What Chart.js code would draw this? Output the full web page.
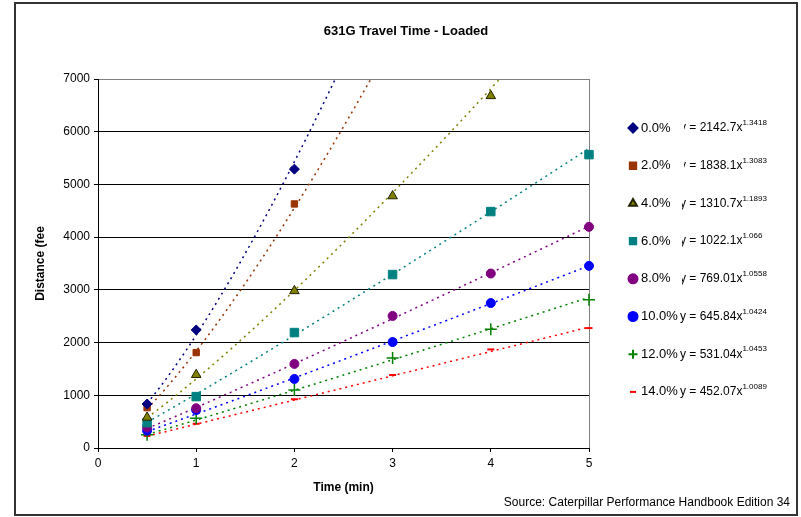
<!DOCTYPE html>
<html>
<head>
<meta charset="utf-8">
<title>631G Travel Time - Loaded</title>
<script src="https://cdn.jsdelivr.net/npm/chart.js@4.4.1/dist/chart.umd.min.js"></script>
<style>
  html, body { margin: 0; padding: 0; background: #fff; }
  canvas { display: block; }
</style>
</head>
<body>
<canvas id="chart" width="801" height="517"></canvas>
<script>
// data
const grades = ['0.0%', '2.0%', '4.0%', '6.0%', '8.0%', '10.0%', '12.0%', '14.0%'];
const times = [0.5, 1, 2, 3, 4, 5];
const dist0 = [835, 2240, 5290];
const dist2 = [765, 1810, 4630];
const dist4 = [580, 1390, 2980, 4780, 6680];
const dist6 = [480, 975, 2190, 3290, 4485, 5565];
const dist8 = [390, 755, 1595, 2505, 3310, 4195];
const dist10 = [330, 720, 1310, 2010, 2750, 3455];
const dist12 = [250, 565, 1100, 1705, 2255, 2810];
const dist14 = [230, 460, 925, 1385, 1870, 2275];
// power trendline coefficients shown in the legend (y = a * x^b)
const fitCoef = [2142.7, 1838.1, 1310.7, 1022.1, 769.01, 645.84, 531.04, 452.07];
const fitExp = ['1.3418', '1.3083', '1.1893', '1.066', '1.0558', '1.0424', '1.0453', '1.0089'];
const yTicks = [0, 1000, 2000, 3000, 4000, 5000, 6000, 7000];
const xTicks = [0, 1, 2, 3, 4, 5];

const allDist = [dist0, dist2, dist4, dist6, dist8, dist10, dist12, dist14];

const colors = ['#000080', '#993300', '#808000', '#008080', '#800080', '#0000ff', '#008000', '#ff0000'];
const markers = [
    { pointStyle: 'rectRot', radius: 5, border: '#000080', bw: 1 },
    { pointStyle: 'rect', radius: 4.5, border: '#993300', bw: 1 },
    { pointStyle: 'triangle', radius: 5.5, border: '#222200', bw: 1 },
    { pointStyle: 'rect', radius: 6, border: '#008080', bw: 1 },
    { pointStyle: 'circle', radius: 4.5, border: '#800080', bw: 1 },
    { pointStyle: 'circle', radius: 4.5, border: '#0000ff', bw: 1 },
    { pointStyle: 'cross', radius: 6, border: '#008000', bw: 1.5 },
    { pointStyle: 'line', radius: 3.5, border: '#ff0000', bw: 2 }
];

Chart.defaults.font.family = "'Liberation Sans', Arial, sans-serif";
Chart.defaults.color = '#000';

function trendPoints(i) {
    const pts = [];
    for (let x = 0.5; x <= 5.0001; x += 0.05) {
        pts.push({ x: x, y: fitCoef[i] * Math.pow(x, parseFloat(fitExp[i])) });
    }
    return pts;
}

const datasets = [];
grades.forEach((g, i) => {
    datasets.push({
        label: g,
        data: allDist[i].map((v, j) => ({ x: times[j], y: v })),
        showLine: false,
        clip: false,
        pointStyle: markers[i].pointStyle,
        pointRadius: markers[i].radius,
        pointBackgroundColor: colors[i],
        pointBorderColor: markers[i].border,
        pointBorderWidth: markers[i].bw,
        order: 0
    });
});
grades.forEach((g, i) => {
    datasets.push({
        label: 'trend ' + g,
        data: trendPoints(i),
        showLine: true,
        borderColor: colors[i],
        borderWidth: 1.5,
        borderDash: [2, 4],
        pointRadius: 0,
        tension: 0,
        order: 1
    });
});

const decorPlugin = {
    id: 'decor',
    beforeDatasetsDraw(chart) {
        const { ctx, chartArea } = chart;
        ctx.save();
        ctx.strokeStyle = '#808080';
        ctx.lineWidth = 1;
        ctx.beginPath();
        ctx.moveTo(Math.round(chartArea.right) + 0.5, chartArea.top);
        ctx.lineTo(Math.round(chartArea.right) + 0.5, chartArea.bottom);
        ctx.stroke();
        ctx.restore();
    },
    afterDraw(chart) {
        const { ctx, chartArea } = chart;
        ctx.save();

        // outer frame
        ctx.strokeStyle = '#333';
        ctx.lineWidth = 2;
        ctx.strokeRect(15, 3, 782, 512);

        // title
        ctx.fillStyle = '#000';
        ctx.textAlign = 'center';
        ctx.textBaseline = 'middle';
        ctx.font = "bold 13px 'Liberation Sans', Arial, sans-serif";
        ctx.fillText('631G Travel Time - Loaded', 406, 31);

        // axis titles
        ctx.font = "bold 12px 'Liberation Sans', Arial, sans-serif";
        ctx.fillText('Time (min)', (chartArea.left + chartArea.right) / 2, 488);
        ctx.save();
        ctx.translate(41, (chartArea.top + chartArea.bottom) / 2);
        ctx.rotate(-Math.PI / 2);
        ctx.fillText('Distance (fee', 0, 0);
        ctx.restore();

        // source note
        ctx.font = "12px 'Liberation Sans', Arial, sans-serif";
        ctx.textAlign = 'right';
        ctx.fillText('Source: Caterpillar Performance Handbook Edition 34', 790, 503);

        // legend with trendline equations
        grades.forEach((g, i) => {
            const y = 128 + i * 37.7;
            const m = markers[i];
            ctx.fillStyle = colors[i];
            ctx.strokeStyle = m.border;
            Chart.helpers.drawPoint(ctx, {
                pointStyle: m.pointStyle,
                radius: m.pointStyle === 'line' ? 3 : Math.min(m.radius, 4.5),
                borderWidth: m.bw,
                rotation: 0
            }, 633, y);

            ctx.fillStyle = '#000';
            ctx.textAlign = 'left';
            ctx.font = "13px 'Liberation Sans', Arial, sans-serif";
            ctx.fillText(g, 641, y);

            // equation, the "y" is partly hidden behind the short labels as in the original
            ctx.save();
            if (i < 5) {
                ctx.beginPath();
                ctx.rect(i < 2 ? 684 : 682, y - 15, 120, 30);
                ctx.clip();
            }
            ctx.font = "12px 'Liberation Sans', Arial, sans-serif";
            const eq = 'y = ' + fitCoef[i] + 'x';
            ctx.fillText(eq, 680, y);
            const w = ctx.measureText(eq).width;
            ctx.font = "8px 'Liberation Sans', Arial, sans-serif";
            ctx.fillText(fitExp[i], 680 + w, y - 5);
            ctx.restore();
        });
        ctx.restore();
    }
};

new Chart(document.getElementById('chart'), {
    type: 'scatter',
    data: { datasets: datasets },
    options: {
        responsive: false,
        animation: false,
        layout: { padding: { left: 0, top: 79, right: 212, bottom: 0 } },
        plugins: {
            legend: { display: false },
            title: { display: false },
            tooltip: { enabled: false }
        },
        scales: {
            x: {
                type: 'linear',
                min: 0,
                max: 5,
                afterBuildTicks: (s) => { s.ticks = xTicks.map(v => ({ value: v })); },
                afterFit: (s) => { s.height = 69; },
                ticks: { font: { size: 12 }, padding: 4, color: '#000', callback: (v) => String(v) },
                grid: { drawOnChartArea: false, tickLength: 4, tickColor: '#000' },
                border: { color: '#000', width: 1 }
            },
            y: {
                type: 'linear',
                min: 0,
                max: 7000,
                afterBuildTicks: (s) => { s.ticks = yTicks.map(v => ({ value: v })); },
                afterFit: (s) => { s.width = 98; },
                ticks: { font: { size: 12 }, padding: 4, color: '#000', callback: (v) => String(v) },
                grid: {
                    color: (c) => (c.tick && c.tick.value === 7000 ? '#808080' : '#000'),
                    tickLength: 4,
                    tickColor: '#000'
                },
                border: { color: '#000', width: 1 }
            }
        }
    },
    plugins: [decorPlugin]
});
</script>
</body>
</html>
